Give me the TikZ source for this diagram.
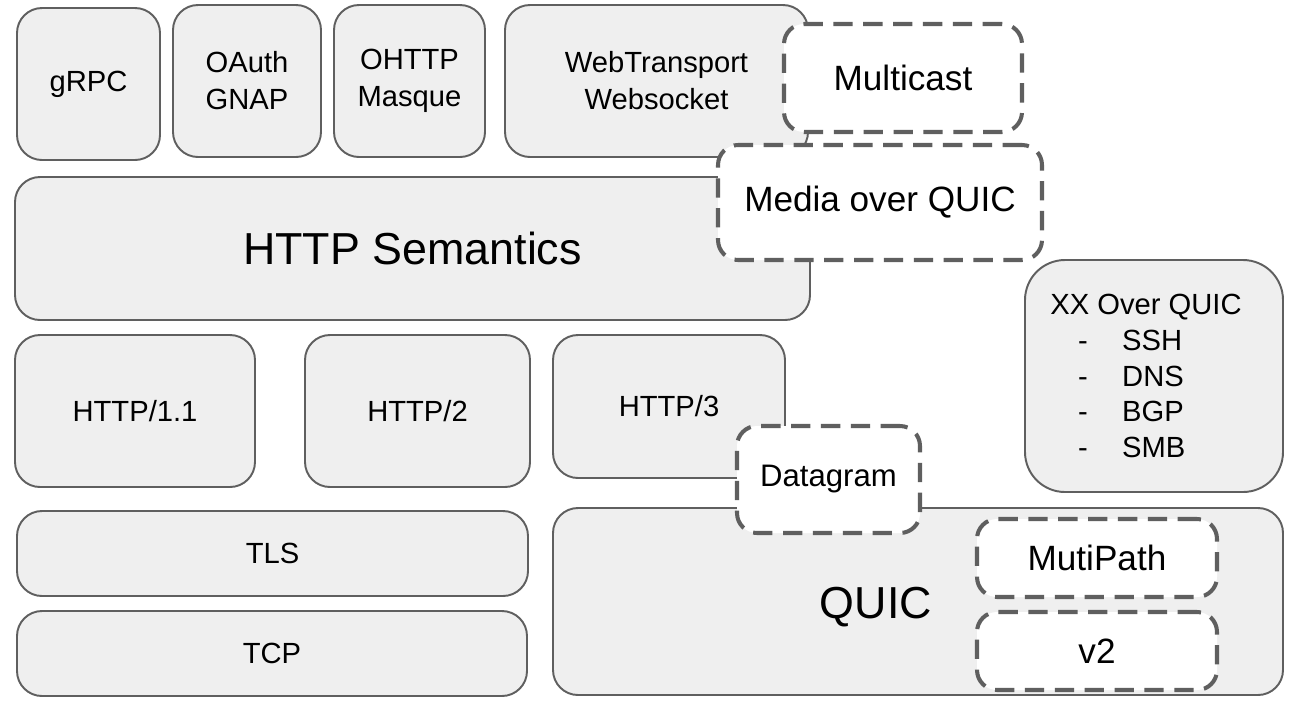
\documentclass[tikz,border=0pt]{standalone}
\usepackage{fontspec}
\setmainfont{Liberation Sans}
\usepackage{xcolor}
\definecolor{linegray}{HTML}{5F5F5F}
\definecolor{boxgray}{HTML}{EFEFEF}

\begin{document}
\begin{tikzpicture}[
  font=\fontsize{16.6}{21}\selectfont,
  layer/.style={draw=linegray, fill=boxgray, line width=1.1pt,
                rounded corners=0.5cm, align=center, inner sep=0pt},
  ext/.style={draw=linegray, fill=white, line width=2.3pt,
              dash pattern=on 11pt off 6pt, rounded corners=0.4cm,
              align=center, inner sep=0pt, font=\fontsize{20}{24}\selectfont},
  big/.style={font=\fontsize{25.5}{30}\selectfont},
]
  \useasboundingbox (0, 0) rectangle (26, -14.28);

  % top row
  \node[layer, minimum width=2.86cm, minimum height=3.04cm] (grpc)  at (1.77, -1.68) {gRPC};
  \node[layer, minimum width=2.96cm, minimum height=3.04cm] (oauth) at (4.94, -1.62) {OAuth\\GNAP};
  \node[layer, minimum width=3.02cm, minimum height=3.04cm] (ohttp) at (8.19, -1.62) {OHTTP\\Masque};
  \node[layer, minimum width=6.06cm, minimum height=3.04cm] (webt)  at (13.13, -1.62) {WebTransport\\Websocket};

  \node[layer, big, minimum width=15.9cm, minimum height=2.86cm] (sem) at (8.25, -4.97) {HTTP Semantics};

  \node[ext, minimum width=4.76cm, minimum height=2.16cm] (mcast) at (18.06, -1.56) {Multicast};
  \node[ext, minimum width=6.48cm, minimum height=2.30cm] (moq)   at (17.60, -4.05) {\raisebox{-2pt}{Media over QUIC}};

  % HTTP versions
  \node[layer, minimum width=4.80cm, minimum height=3.04cm] (h1) at (2.70, -8.22) {HTTP/1.1};
  \node[layer, minimum width=4.50cm, minimum height=3.04cm] (h2) at (8.35, -8.22) {HTTP/2};
  \node[layer, minimum width=4.64cm, minimum height=2.86cm] (h3) at (13.38, -8.13) {HTTP/3};

  \node[layer, rounded corners=0.8cm, minimum width=5.16cm, minimum height=4.64cm,
        align=left, font=\fontsize{16.6}{20.4}\selectfont] (xx) at (23.08, -7.52)
    {XX Over QUIC\hspace*{0.32cm}\\
     \hspace*{0.95em}-\hspace{1.18em}SSH\\
     \hspace*{0.95em}-\hspace{1.18em}DNS\\
     \hspace*{0.95em}-\hspace{1.18em}BGP\\
     \hspace*{0.95em}-\hspace{1.18em}SMB};

  % transport
  \node[layer, minimum width=10.22cm, minimum height=1.70cm] (tls) at (5.45, -11.07) {TLS};
  \node[layer, minimum width=10.20cm, minimum height=1.70cm] (tcp) at (5.44, -13.07) {TCP};

  \node[layer, minimum width=14.6cm, minimum height=3.74cm] (quic) at (18.36, -12.03) {};
  \node[big] (quiclbl) at (17.52, -12.14) {QUIC};

  \node[ext, minimum width=4.8cm, minimum height=1.56cm] (mpath) at (21.94, -11.16) {MutiPath};
  \node[ext, minimum width=4.8cm, minimum height=1.56cm] (v2)    at (21.94, -13.02) {v2};

  \node[ext, minimum width=3.66cm, minimum height=2.14cm,
        font=\fontsize{17.7}{21}\selectfont] (dgram) at (16.57, -9.59) {\raisebox{-3pt}{Datagram}};
\end{tikzpicture}
\end{document}
